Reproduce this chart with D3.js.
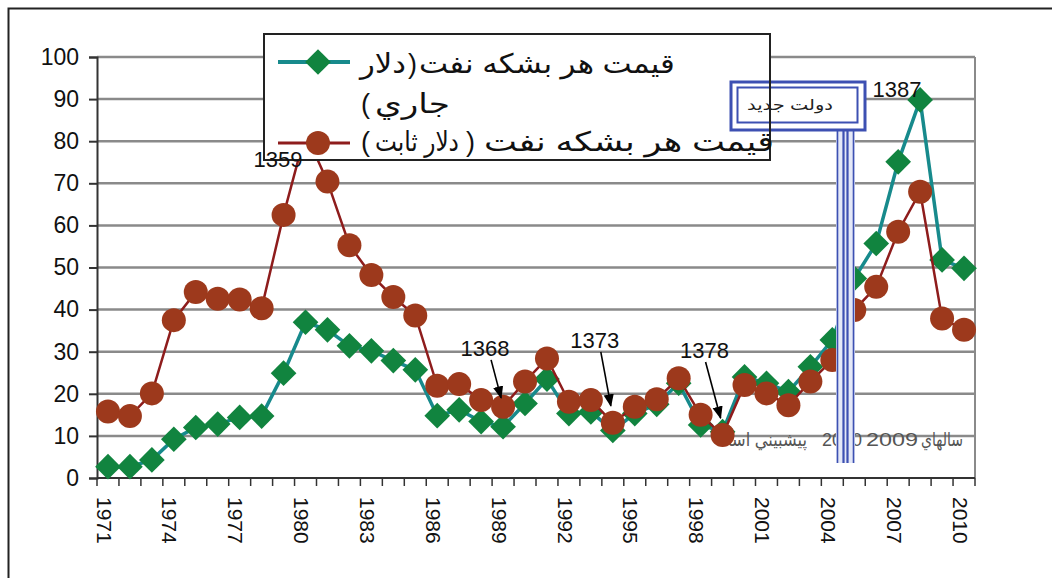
<!DOCTYPE html>
<html>
<head>
<meta charset="utf-8">
<script src="https://cdn.jsdelivr.net/npm/d3@7"></script>
<style>
  body { margin: 0; background: #fff; }
  svg { display: block; }
  text { font-family: "Liberation Sans", "DejaVu Sans", sans-serif; }
</style>
</head>
<body>
<div id="chart"></div>
<script>
// years on the category axis
const years = d3.range(1971, 2011);
// price per barrel, current dollars (green)
const currentPrice = [2.7, 2.7, 4.3, 9.2, 12.0, 12.8, 14.4, 14.7, 24.9, 37.0,
  35.2, 31.4, 30.2, 27.9, 25.7, 14.8, 16.2, 13.4, 12.2, 17.7,
  23.5, 15.3, 15.7, 11.3, 15.3, 17.5, 22.5, 12.6, 11.0, 24.0,
  22.5, 20.5, 26.4, 32.8, 47.4, 55.7, 75.1, 89.8, 51.8, 49.8];
// price per barrel, constant dollars (red)
const constantPrice = [15.8, 14.7, 20.1, 37.5, 44.2, 42.6, 42.4, 40.3, 62.5, 82.0,
  70.4, 55.3, 48.2, 43.0, 38.6, 21.9, 22.3, 18.5, 16.9, 22.9,
  28.4, 18.1, 18.5, 13.1, 16.9, 18.7, 23.7, 15.0, 10.2, 22.1,
  20.1, 17.3, 22.9, 28.0, 39.9, 45.4, 58.5, 68.0, 37.9, 35.2];
const yTicks = [0, 10, 20, 30, 40, 50, 60, 70, 80, 90, 100];
const xLabelYears = years.filter((y, i) => i % 3 === 0);
// solar-year callouts with an arrow
const calloutLabels = ["1368", "1373", "1378"];
const calloutYears = [1989, 1994, 1999];

const width = 1052, height = 578;
const plotL = 97, plotR = 975, plotT = 57, plotB = 478;

const svg = d3.select("#chart").append("svg")
  .attr("width", width).attr("height", height);

svg.append("defs").append("marker")
  .attr("id", "arrow").attr("viewBox", "0 0 10 10")
  .attr("refX", 9).attr("refY", 5)
  .attr("markerWidth", 8).attr("markerHeight", 8)
  .attr("orient", "auto-start-reverse")
  .append("path").attr("d", "M0,1 L10,5 L0,9 z").attr("fill", "#000");

// squeeze/stretch a text to a given width by scaling it (keeps its box honest)
function fitText(parent, txt, x0, base, len) {
  const t = parent.append("text").text(txt);
  if (!len) return t.attr("x", x0).attr("y", base);
  const w = t.node().getComputedTextLength() || len;
  return t.attr("transform", `translate(${x0},${base}) scale(${len / w},1)`);
}

// outer chart frame (only top & left are inside the picture)
svg.append("rect")
  .attr("x", 8.5).attr("y", 8.5).attr("width", 1100).attr("height", 600)
  .attr("fill", "#fff").attr("stroke", "#222").attr("stroke-width", 2);

const x = d3.scaleBand().domain(years).range([plotL, plotR]).padding(0);
const y = d3.scaleLinear().domain([0, 100]).range([plotB, plotT]);
const cx = d => x(d) + x.bandwidth() / 2;

// gridlines
svg.append("g").selectAll("line")
  .data(yTicks.filter(t => t > 0))
  .enter().append("line")
  .attr("x1", plotL).attr("x2", plotR)
  .attr("y1", d => y(d)).attr("y2", d => y(d))
  .attr("stroke", "#8a8a8a").attr("stroke-width", 2.5);

svg.append("line")
  .attr("x1", plotR).attr("x2", plotR).attr("y1", plotT).attr("y2", plotB)
  .attr("stroke", "#8a8a8a").attr("stroke-width", 2);

// y axis
const yAxis = svg.append("g")
  .attr("transform", `translate(${plotL},0)`)
  .call(d3.axisLeft(y).tickValues(yTicks).tickSize(8).tickPadding(10));
yAxis.select(".domain").attr("stroke", "#333").attr("stroke-width", 2);
yAxis.selectAll(".tick line").attr("stroke", "#333").attr("stroke-width", 2);
yAxis.selectAll(".tick text")
  .attr("font-size", 23).attr("fill", "#111")
  .style("font-family", "'Liberation Sans', Arial, sans-serif");

// x axis: ticks at category boundaries, labels every 3 years
const xAxis = svg.append("g").attr("transform", `translate(0,${plotB})`);
xAxis.append("line").attr("x1", plotL).attr("x2", plotR)
  .attr("stroke", "#333").attr("stroke-width", 2);
xAxis.selectAll("line.tk")
  .data(years.concat([null]))
  .enter().append("line").attr("class", "tk")
  .attr("x1", (d, i) => plotL + i * x.bandwidth())
  .attr("x2", (d, i) => plotL + i * x.bandwidth())
  .attr("y1", 0).attr("y2", 8)
  .attr("stroke", "#333").attr("stroke-width", 1.5);
xAxis.selectAll("text")
  .data(xLabelYears)
  .enter().append("text")
  .attr("transform", d => `translate(${cx(d) - 4},19) rotate(90)`)
  .attr("dy", "0.35em")
  .attr("font-size", 21).attr("fill", "#111")
  .text(d => d);

// footnote under the series
const note = svg.append("g").attr("fill", "#555").attr("font-size", 19);
fitText(note, "سالهاي", 921, 446, 42);
fitText(note, "2009", 866, 446, 52);
fitText(note, "2010", 822, 446, 40);
fitText(note, "پيشبيني است", 716, 446, 91);

// series
const line = d3.line().x((d, i) => cx(years[i])).y(d => y(d));
const diamond = d3.symbol().type(d3.symbolSquare).size(330);

svg.append("path").datum(currentPrice)
  .attr("d", line).attr("fill", "none")
  .attr("stroke", "#178a8c").attr("stroke-width", 3.5);
svg.append("g").selectAll("path")
  .data(currentPrice).enter().append("path")
  .attr("d", diamond)
  .attr("transform", (d, i) => `translate(${cx(years[i])},${y(d)}) rotate(45)`)
  .attr("fill", "#11843f");

svg.append("path").datum(constantPrice)
  .attr("d", line).attr("fill", "none")
  .attr("stroke", "#8e1c1c").attr("stroke-width", 2.5);
svg.append("g").selectAll("circle")
  .data(constantPrice).enter().append("circle")
  .attr("cx", (d, i) => cx(years[i])).attr("cy", d => y(d))
  .attr("r", 12).attr("fill", "#9d391c");

// callout arrows (label placed above-left of the point)
const labelLift = [51, 75, 77];
const tipLift = [9, 17, 17];
const byYear = new Map(years.map((yr, i) => [yr, constantPrice[i]]));
calloutYears.forEach((yr, k) => {
  const px = cx(yr), py = y(byYear.get(yr));
  const lx = px - 18, ly = py - labelLift[k];
  svg.append("text").attr("x", lx).attr("y", ly)
    .attr("text-anchor", "middle").attr("font-size", 22).attr("fill", "#111")
    .text(calloutLabels[k]);
  svg.append("line")
    .attr("x1", lx + 6 - (k === 2 ? 5 : 0)).attr("y1", ly + 4)
    .attr("x2", px - 2).attr("y2", py - tipLift[k])
    .attr("stroke", "#000").attr("stroke-width", 1.6)
    .attr("marker-end", "url(#arrow)");
});

// legend background and samples
const lg = svg.append("g");
lg.append("rect").attr("x", 264).attr("y", 34).attr("width", 506).attr("height", 126)
  .attr("fill", "#fff").attr("stroke", "none");
lg.append("line").attr("x1", 278).attr("x2", 350).attr("y1", 62).attr("y2", 62)
  .attr("stroke", "#178a8c").attr("stroke-width", 4);
lg.append("path").attr("d", diamond)
  .attr("transform", "translate(318,62) rotate(45)").attr("fill", "#11843f");
lg.append("line").attr("x1", 278).attr("x2", 350).attr("y1", 143).attr("y2", 143)
  .attr("stroke", "#8e1c1c").attr("stroke-width", 3);
lg.append("circle").attr("cx", 318).attr("cy", 143).attr("r", 12).attr("fill", "#9d391c");

// "new government" box with connector
const box = svg.append("g").attr("stroke", "#3d50b2").attr("fill", "none");
box.append("rect").attr("x", 836).attr("y", 131).attr("width", 19).attr("height", 332)
  .attr("fill", "#e4e8f7").attr("stroke", "none");
[837.5, 843.5, 847.5, 853.5].forEach(v => {
  box.append("line").attr("x1", v).attr("x2", v).attr("y1", 131).attr("y2", 463)
    .attr("stroke-width", v === 837.5 || v === 853.5 ? 1.6 : 2.2);
});
box.append("rect").attr("x", 731).attr("y", 82).attr("width", 134).attr("height", 48)
  .attr("fill", "#fff").attr("stroke-width", 3);
box.append("rect").attr("x", 737.5).attr("y", 87.5).attr("width", 120).attr("height", 35)
  .attr("stroke-width", 2);
const boxText = svg.append("g").attr("font-size", 15).attr("fill", "#222");
fitText(boxText, "دولت جديد", 747, 110, 86);

// legend border and text on top; brackets set apart (visual glyphs) so bidi cannot flip them
const lf = svg.append("g");
lf.append("rect").attr("x", 264).attr("y", 34).attr("width", 506).attr("height", 126)
  .attr("fill", "none").attr("stroke", "#222").attr("stroke-width", 2);
const lt = lf.append("g").attr("fill", "#111").attr("font-size", 27);
// line 1: قيمت هر بشكه نفت(دلار
fitText(lt, "دلار", 360, 73, 46);
fitText(lt, ")", 408, 73);
fitText(lt, "قيمت هر بشكه نفت", 419, 73, 256);
// line 2: جاري)
fitText(lt, "(", 361, 113);
fitText(lt, "جاري", 375, 113, 75);
// line 3: قيمت هر بشكه نفت( دلار ثابت)
fitText(lt, "(", 361, 151);
fitText(lt, "دلار ثابت", 375, 151, 84);
fitText(lt, ")", 466, 151);
fitText(lt, "قيمت هر بشكه نفت", 484, 151, 290);

// peak labels
svg.append("text").attr("x", 278).attr("y", 167).attr("text-anchor", "middle")
  .attr("font-size", 22).attr("fill", "#111").text("1359");
svg.append("text").attr("x", 897).attr("y", 97).attr("text-anchor", "middle")
  .attr("font-size", 22).attr("fill", "#111").text("1387");
</script>
</body>
</html>
